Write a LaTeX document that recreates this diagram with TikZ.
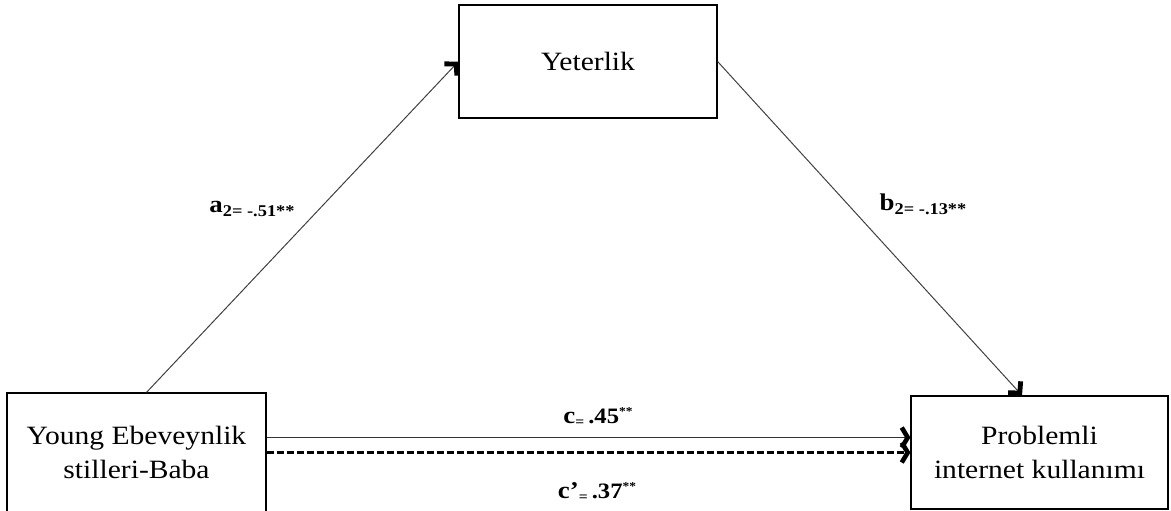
\documentclass[tikz,border=0pt]{standalone}
\usepackage{fontspec}
\setmainfont{Liberation Serif}[FakeStretch=1.12]
\usetikzlibrary{arrows.meta}

\begin{document}
\begin{tikzpicture}[x=0.5pt,y=-0.5pt,
    box/.style={draw,line width=0.6pt,inner sep=0pt,align=center,
      font=\fontsize{13.2}{17}\selectfont},
    barb/.style={-{Straight Barb[length=4pt,width=8.5pt,line width=2.4pt,color=black]}},
    flat/.style={-{Straight Barb[length=3pt,width=10pt,line width=2.3pt,color=black]}},
    lbl/.style={anchor=base,inner sep=0pt,font=\fontsize{12}{14}\selectfont\bfseries}]
        \clip (0,0) rectangle (1171,510);

          \node[box,minimum width=129pt,minimum height=56.5pt] (yet) at (588,61.5) {Yeterlik};
          \node[box,minimum width=129.5pt,minimum height=59.5pt] (young) at (136.5,452.5)
            {Young Ebeveynlik\\stilleri-Baba};
          \node[box,minimum width=128.5pt,minimum height=56.5pt] (prob) at (1039.5,452.5)
            {Problemli\\internet kullanımı};

          \draw[barb,black!75,line width=0.5pt] ([xshift=5pt]young.north) -- (yet.west);
          \draw[barb,black!75,line width=0.5pt] (yet.east) -- ([xshift=-8.75pt]prob.north);
          \draw[flat,black!80,line width=0.6pt] ([yshift=7.5pt]prob.west -| young.east) -- ([yshift=7.5pt]prob.west);
          \draw[flat,line width=1.1pt,dash pattern=on 3.5pt off 1.5pt] (prob.west -| young.east) -- (prob.west);

          \node[lbl] (a) at (252,212) {a\raisebox{-2pt}{\fontsize{8.2}{10}\selectfont 2= -.51**}};
          \node[lbl] (b) at (923,210) {b\raisebox{-2pt}{\fontsize{8.2}{10}\selectfont 2= -.13**}};
          \node[lbl] (c) at (598,423) {c\raisebox{-1.5pt}{\fontsize{7}{9}\selectfont =}\,{\fontsize{11}{12}\selectfont .45}\raisebox{4pt}{\fontsize{6}{7}\selectfont **}};
          \node[lbl] (cp) at (597,498) {c'\raisebox{-1.5pt}{\fontsize{7}{9}\selectfont =}\,{\fontsize{11}{12}\selectfont .37}\raisebox{4pt}{\fontsize{6}{7}\selectfont **}};
        \end{tikzpicture}
\end{document}
